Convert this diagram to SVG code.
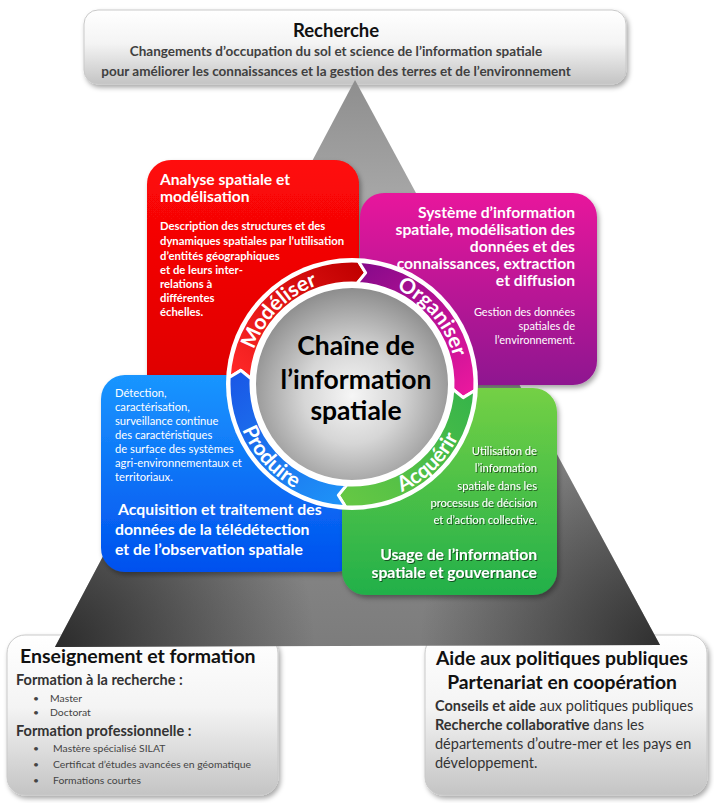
<svg xmlns="http://www.w3.org/2000/svg" width="714" height="803" viewBox="0 0 714 803">
<defs>
<style>
text{font-family:Lato,"Liberation Sans",sans-serif}
.b{font-weight:bold}
.w{fill:#fff;font-weight:bold}
.ring{fill:#fff;font-weight:bold;font-size:21px}
.gbox{stroke:#c9c9c9;stroke-width:1}
.seg{stroke:#fff;stroke-width:3;stroke-linejoin:round}
</style>
<linearGradient id="gGray" x1="0" y1="0" x2="0" y2="1"><stop offset="0" stop-color="#ffffff"/><stop offset="0.45" stop-color="#f4f4f4"/><stop offset="1" stop-color="#c4c4c4"/></linearGradient>
<linearGradient id="gTri" gradientUnits="userSpaceOnUse" x1="0" y1="80" x2="0" y2="647"><stop offset="0" stop-color="#8e8e8e"/><stop offset="0.2" stop-color="#a6a6a6"/><stop offset="1" stop-color="#7c7c7c"/></linearGradient>
<radialGradient id="gTriL" gradientUnits="userSpaceOnUse" cx="55" cy="647" r="260"><stop offset="0" stop-color="#222" stop-opacity="0.9"/><stop offset="1" stop-color="#222" stop-opacity="0"/></radialGradient>
<radialGradient id="gTriR" gradientUnits="userSpaceOnUse" cx="660" cy="645" r="240"><stop offset="0" stop-color="#222" stop-opacity="0.85"/><stop offset="1" stop-color="#222" stop-opacity="0"/></radialGradient>
<linearGradient id="gRed" x1="0" y1="0" x2="0" y2="1"><stop offset="0" stop-color="#ff0808"/><stop offset="1" stop-color="#dc0000"/></linearGradient>
<linearGradient id="gMag" x1="0" y1="0" x2="0" y2="1"><stop offset="0" stop-color="#e8149c"/><stop offset="1" stop-color="#8e1490"/></linearGradient>
<linearGradient id="gBlue" x1="0" y1="0" x2="0" y2="1"><stop offset="0" stop-color="#1a96ff"/><stop offset="1" stop-color="#0050ee"/></linearGradient>
<linearGradient id="gGreen" x1="0" y1="0" x2="0" y2="1"><stop offset="0" stop-color="#74d044"/><stop offset="1" stop-color="#22b04a"/></linearGradient>
<linearGradient id="sRed" gradientUnits="userSpaceOnUse" x1="240" y1="380" x2="360" y2="265"><stop offset="0" stop-color="#ff2828"/><stop offset="1" stop-color="#c00000"/></linearGradient>
<linearGradient id="sMag" gradientUnits="userSpaceOnUse" x1="360" y1="265" x2="470" y2="392"><stop offset="0" stop-color="#860a8a"/><stop offset="1" stop-color="#ea189e"/></linearGradient>
<linearGradient id="sGreen" gradientUnits="userSpaceOnUse" x1="470" y1="392" x2="345" y2="505"><stop offset="0" stop-color="#36b44a"/><stop offset="1" stop-color="#66c844"/></linearGradient>
<linearGradient id="sBlue" gradientUnits="userSpaceOnUse" x1="345" y1="505" x2="232" y2="378"><stop offset="0" stop-color="#1e94f8"/><stop offset="1" stop-color="#1a58e6"/></linearGradient>
<radialGradient id="gDisc" cx="0.5" cy="0.56" r="0.55"><stop offset="0" stop-color="#f6f6f6"/><stop offset="0.45" stop-color="#d6d6d6"/><stop offset="1" stop-color="#8e8e8e"/></radialGradient>
<filter id="sh" x="-10%" y="-10%" width="125%" height="130%"><feDropShadow dx="2" dy="3" stdDeviation="2.5" flood-color="#000" flood-opacity="0.35"/></filter>
<filter id="tsh"><feDropShadow dx="1" dy="1" stdDeviation="0.4" flood-color="#000" flood-opacity="0.55"/></filter>
<path id="pMod" d="M248 384 A105 105 0 0 1 352 279"/>
<path id="pOrg" d="M352 279 A105 105 0 0 1 455.4 402.2"/>
<path id="pAcq" d="M339.56 502.35 A119 119 0 0 0 470.71 375.7"/>
<path id="pPro" d="M234.16 367.44 A119 119 0 0 0 356.15 502.93"/>
</defs>
<rect width="714" height="803" fill="#fff"/>

<g id="recherche">
<rect class="gbox" x="84" y="10" width="542" height="74" rx="14" fill="url(#gGray)" filter="url(#sh)"/>
<text class="b" x="336" y="37" font-size="18.5" text-anchor="middle" fill="#111">Recherche</text>
<text class="b" x="336" y="56" font-size="13.5" text-anchor="middle" fill="#404040">Changements d’occupation du sol et science de l’information spatiale</text>
<text class="b" x="336" y="76" font-size="13.5" text-anchor="middle" fill="#404040">pour améliorer les connaissances et la gestion des terres et de l’environnement</text>
</g>

<g id="enseignement">
<rect class="gbox" x="7" y="635" width="271" height="160" rx="18" fill="url(#gGray)" filter="url(#sh)"/>
<text class="b" x="20" y="663" font-size="19.5" fill="#111">Enseignement et formation</text>
<text class="b" x="16" y="685" font-size="14.5" fill="#333">Formation à la recherche :</text>
<g font-size="10.4" fill="#444">
<text x="33" y="702">•</text><text x="50" y="702">Master</text>
<text x="33" y="716">•</text><text x="50" y="716">Doctorat</text>
</g>
<text class="b" x="16" y="736" font-size="14.5" fill="#333">Formation professionnelle :</text>
<g font-size="10.4" fill="#444">
<text x="33" y="752">•</text><text x="53" y="752">Mastère spécialisé SILAT</text>
<text x="33" y="768">•</text><text x="53" y="768">Certificat d’études avancées en géomatique</text>
<text x="33" y="784">•</text><text x="53" y="784">Formations courtes</text>
</g>
</g>

<g id="aide">
<rect class="gbox" x="425" y="635" width="282" height="160" rx="18" fill="url(#gGray)" filter="url(#sh)"/>
<text class="b" x="562" y="665" font-size="19.3" text-anchor="middle" fill="#111">Aide aux politiques publiques</text>
<text class="b" x="562" y="689" font-size="19.3" text-anchor="middle" fill="#111">Partenariat en coopération</text>
<g font-size="14.5" fill="#333">
<text x="435" y="711"><tspan class="b">Conseils et aide</tspan> aux politiques publiques</text>
<text x="435" y="730"><tspan class="b">Recherche collaborative</tspan> dans les</text>
<text x="435" y="749">départements d’outre-mer et les pays en</text>
<text x="435" y="768">développement.</text>
</g>
</g>

<g id="connectors">
<path d="M355 80 L660 645 L55 647 Z" fill="url(#gTri)"/>
<path d="M355 80 L660 645 L55 647 Z" fill="url(#gTriL)"/>
<path d="M355 80 L660 645 L55 647 Z" fill="url(#gTriR)"/>
</g>

<g id="analyse">
<rect x="147" y="160" width="212" height="240" rx="24" fill="url(#gRed)" filter="url(#sh)"/>
<text class="w" x="160" y="185" font-size="15.6">Analyse spatiale et</text>
<text class="w" x="160" y="202" font-size="15.6">modélisation</text>
<g class="w" font-size="11.3">
<text x="160" y="230">Description des structures et des</text>
<text x="160" y="245">dynamiques spatiales par l’utilisation</text>
<text x="160" y="260">d’entités géographiques</text>
<text x="160" y="274">et de leurs inter-</text>
<text x="160" y="288">relations à</text>
<text x="160" y="302">différentes</text>
<text x="160" y="316">échelles.</text>
</g>
</g>

<g id="systeme">
<rect x="360" y="193" width="237" height="192" rx="24" fill="url(#gMag)" filter="url(#sh)"/>
<g class="w" font-size="15.7" text-anchor="end">
<text x="575" y="218">Système d’information</text>
<text x="575" y="235">spatiale, modélisation des</text>
<text x="575" y="252">données et des</text>
<text x="575" y="269">connaissances, extraction</text>
<text x="575" y="286">et diffusion</text>
</g>
<g font-size="11" fill="#fff" text-anchor="end">
<text x="575" y="316">Gestion des données</text>
<text x="575" y="330">spatiales de</text>
<text x="575" y="344">l’environnement.</text>
</g>
</g>

<g id="acquisition">
<rect x="101" y="375" width="258" height="197" rx="24" fill="url(#gBlue)" filter="url(#sh)"/>
<g font-size="11.2" fill="#fff">
<text x="115" y="397">Détection,</text>
<text x="115" y="411">caractérisation,</text>
<text x="115" y="425">surveillance continue</text>
<text x="115" y="439">des caractéristiques</text>
<text x="115" y="453">de surface des systèmes</text>
<text x="115" y="467">agri-environnementaux et</text>
<text x="115" y="481">territoriaux.</text>
</g>
<g class="w" font-size="15.8">
<text x="118" y="515">Acquisition et traitement des</text>
<text x="115" y="535">données de la télédétection</text>
<text x="115" y="555">et de l’observation spatiale</text>
</g>
</g>

<g id="usage">
<rect x="342" y="388" width="215" height="207" rx="24" fill="url(#gGreen)" filter="url(#sh)"/>
<g font-size="11.2" fill="#fff" text-anchor="end" filter="url(#tsh)">
<text x="537" y="455">Utilisation de</text>
<text x="537" y="472">l’information</text>
<text x="537" y="490">spatiale dans les</text>
<text x="537" y="507">processus de décision</text>
<text x="537" y="524">et d’action collective.</text>
</g>
<g class="w" font-size="15.7" text-anchor="end" filter="url(#tsh)">
<text x="537" y="560">Usage de l’information</text>
<text x="537" y="578">spatiale et gouvernance</text>
</g>
</g>

<g id="cycle">
<circle cx="352" cy="384" r="126" fill="#fff"/>
<path class="seg" fill="url(#sRed)" d="M229.17 377.56 A123 123 0 0 1 358.44 261.17 L365.65 272.83 L357.29 283.14 A101 101 0 0 0 251.14 378.71 L240.83 370.35 Z"/>
<path class="seg" fill="url(#sMag)" d="M358.44 261.17 A123 123 0 0 1 474.83 390.44 L463.17 397.65 L452.86 389.29 A101 101 0 0 0 357.29 283.14 L365.65 272.83 Z"/>
<path class="seg" fill="url(#sGreen)" d="M474.83 390.44 A123 123 0 0 1 345.56 506.83 L338.35 495.17 L346.71 484.86 A101 101 0 0 0 452.86 389.29 L463.17 397.65 Z"/>
<path class="seg" fill="url(#sBlue)" d="M345.56 506.83 A123 123 0 0 1 229.17 377.56 L240.83 370.35 L251.14 378.71 A101 101 0 0 0 346.71 484.86 L338.35 495.17 Z"/>
<circle cx="352" cy="384" r="97" fill="url(#gDisc)" stroke="#fff" stroke-width="2"/>
<text class="ring"><textPath href="#pMod" startOffset="50%" text-anchor="middle">Modéliser</textPath></text>
<text class="ring"><textPath href="#pOrg" startOffset="50%" text-anchor="middle">Organiser</textPath></text>
<text class="ring"><textPath href="#pAcq" startOffset="50%" text-anchor="middle">Acquérir</textPath></text>
<text class="ring"><textPath href="#pPro" startOffset="50%" text-anchor="middle">Produire</textPath></text>
<g class="b" font-size="26.5" fill="#000" text-anchor="middle">
<text x="356" y="355">Chaîne de</text>
<text x="356" y="389">l’information</text>
<text x="356" y="420">spatiale</text>
</g>
</g>
</svg>
